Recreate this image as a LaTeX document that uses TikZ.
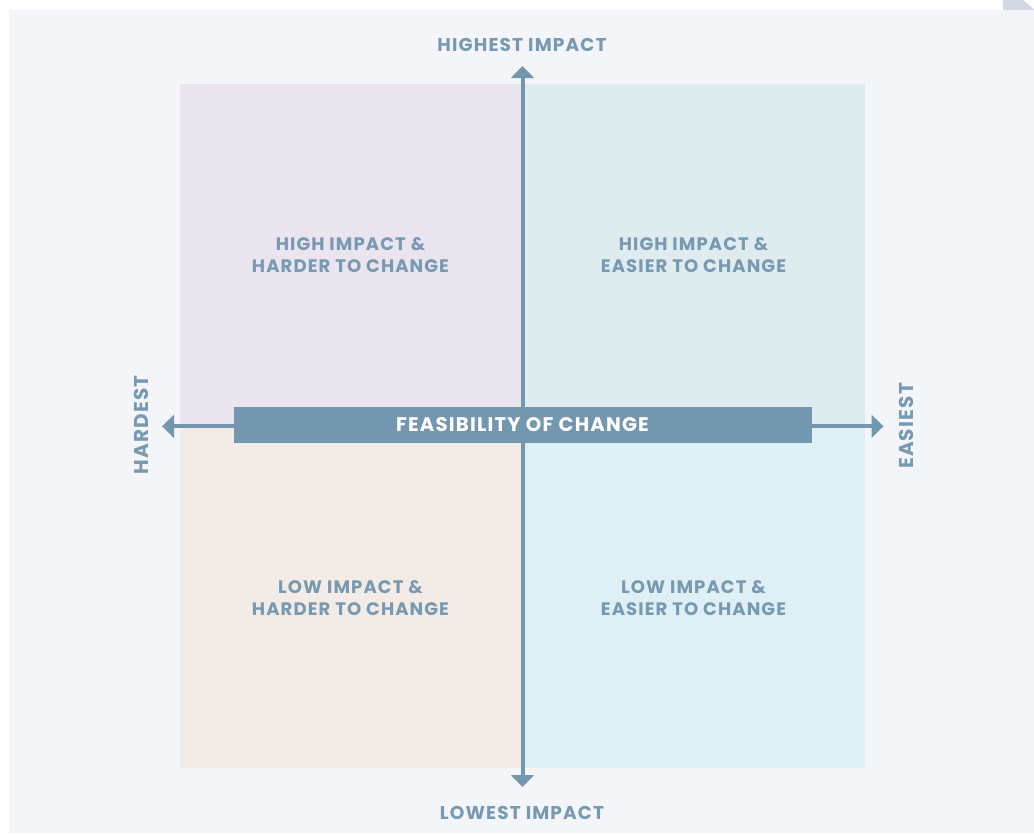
\documentclass[tikz,border=0pt]{standalone}
\usepackage{fontspec}
\setmainfont{Poppins}[LetterSpace=6]
\usetikzlibrary{arrows.meta}

\definecolor{pagebg}{HTML}{F3F5F9}
\definecolor{cornerbg}{HTML}{D3D9E3}
\definecolor{hiharder}{HTML}{EAE4EF}
\definecolor{hieasier}{HTML}{DEECF0}
\definecolor{loharder}{HTML}{F3EBE5}
\definecolor{loeasier}{HTML}{DEEFF6}
\definecolor{axisblue}{HTML}{7497B0}
\definecolor{labelblue}{HTML}{7899B2}

\tikzset{
  axisline/.style={draw=axisblue, line width=3pt,
    {Triangle[width=17pt,length=9pt]}-{Triangle[width=17pt,length=9pt]}},
  axislabel/.style={text=labelblue, font=\bfseries\fontsize{13.9}{16}\selectfont, inner sep=0pt},
  sidelabel/.style={axislabel, rotate=90, font=\bfseries\fontsize{15}{18}\selectfont},
  quadlabel/.style={text=labelblue, align=center, font=\bfseries\fontsize{13.55}{15.9}\selectfont, inner sep=0pt},
  banner/.style={fill=axisblue, text=white, minimum width=433.5pt, minimum height=27pt,
    inner sep=0pt, font=\bfseries\fontsize{14.75}{17}\selectfont}
}

\begin{document}
\begin{tikzpicture}[x=0.75pt, y=-0.75pt]
  % page and panel
  \useasboundingbox (0,0) rectangle (1034,833);
  \fill[white] (0,0) rectangle (1034,833);
  \fill[pagebg] (9,10) rectangle (1034,833);
  \fill[cornerbg] (1003,0) -- (1023,0) -- (1034,9) -- (1034,10) -- (1003,10) -- cycle;

  % quadrants
  \fill[hiharder] (180,84) rectangle (523,426);
  \fill[hieasier] (523,84) rectangle (865,426);
  \fill[loharder] (180,426) rectangle (523,768);
  \fill[loeasier] (523,426) rectangle (865,768);

  % axes
  \coordinate (top) at (522.5,66);
  \coordinate (bottom) at (522.5,787);
  \coordinate (left) at (162,426.3);
  \coordinate (right) at (883.5,426.3);
  \draw[axisline] (bottom) -- (top);
  \draw[axisline] (left) -- (right);
  \node[banner] (feasibility) at (522.5,424.7) {FEASIBILITY OF CHANGE};

  % axis labels
  \node[axislabel] (highest) at (522,45) {HIGHEST IMPACT};
  \node[axislabel] (lowest) at (522,813) {LOWEST IMPACT};
  \node[sidelabel] (hardest) at (141.5,425) {HARDEST};
  \node[sidelabel] (easiest) at (906,426) {EASIEST};

  % quadrant labels
  \node[quadlabel] (hihard) at (350.5,255) {HIGH IMPACT \&\\HARDER TO CHANGE};
  \node[quadlabel] (hieasy) at (693.5,255) {HIGH IMPACT \&\\EASIER TO CHANGE};
  \node[quadlabel] (lohard) at (350.5,598) {LOW IMPACT \&\\HARDER TO CHANGE};
  \node[quadlabel] (loeasy) at (693.5,598) {LOW IMPACT \&\\EASIER TO CHANGE};
\end{tikzpicture}
\end{document}
